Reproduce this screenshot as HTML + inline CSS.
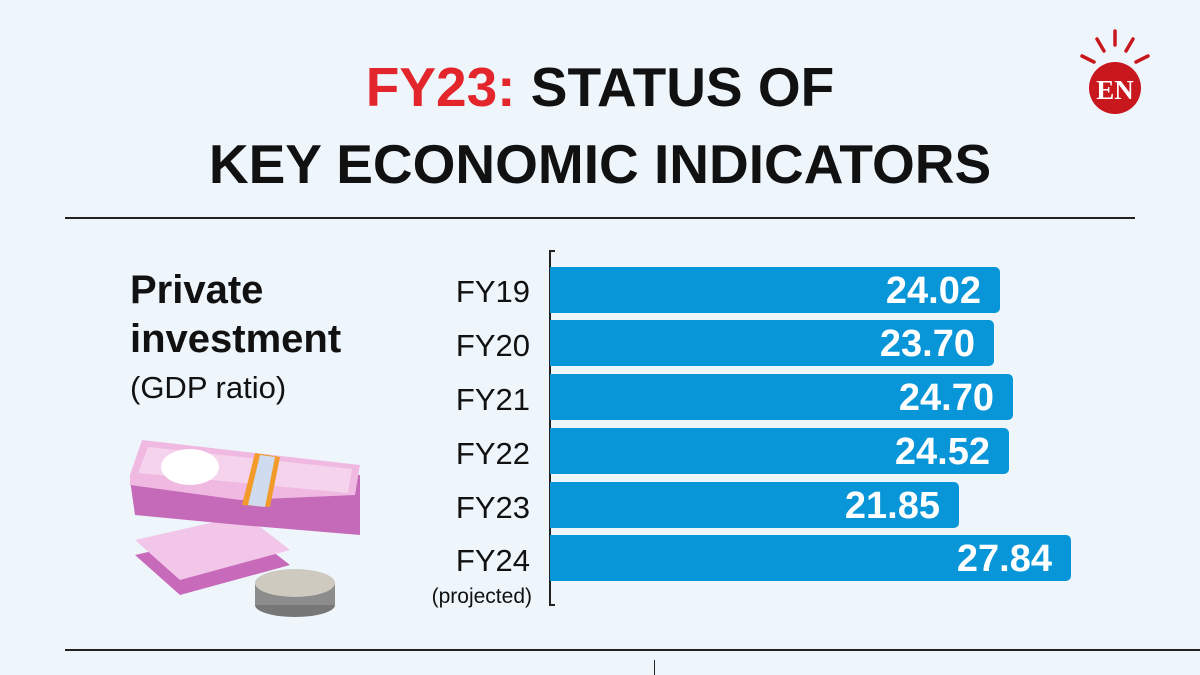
<!DOCTYPE html><html><head><style>
body{margin:0;width:1200px;height:675px;background:#eef6fc;position:relative;overflow:hidden;font-family:"Liberation Sans",sans-serif}
.a{position:absolute}
.t{left:0;width:1200px;text-align:center;font-weight:bold;font-size:55px;color:#111;line-height:1}
.bar{position:absolute;left:550px;height:46px;background:#0896d9;border-radius:0 5px 5px 0;color:#fff;font-weight:bold;font-size:38px;text-align:right;box-sizing:border-box;padding-right:19px;line-height:48px}
.fy{position:absolute;right:670px;font-size:31px;color:#111;line-height:1}
</style></head><body>
<div class="a t" style="top:60px"><span style="color:#e3262c">FY23:</span> STATUS OF</div>
<div class="a t" style="top:137px">KEY ECONOMIC INDICATORS</div>
<svg class="a" style="left:1070px;top:26px" width="100" height="90">
<g stroke="#c8181e" stroke-width="3.5" stroke-linecap="round"><line x1="45" y1="5" x2="45" y2="19"/><line x1="27" y1="13" x2="34" y2="25"/><line x1="63" y1="13" x2="56" y2="25"/><line x1="12" y1="30" x2="24" y2="36"/><line x1="78" y1="30" x2="66" y2="36"/></g>
<circle cx="45" cy="62" r="26" fill="#c8181e"/>
<text x="45" y="73" text-anchor="middle" font-family="Liberation Serif" font-weight="bold" font-size="27" fill="#fff">EN</text></svg>
<div class="a" style="left:65px;top:217px;width:1070px;height:2px;background:#222"></div>
<div class="a" style="left:65px;top:649px;width:1135px;height:2px;background:#222"></div>
<div class="a" style="left:654px;top:660px;width:1px;height:15px;background:#222"></div>
<div class="a" style="left:130px;top:266px;font-weight:bold;font-size:40px;line-height:49px;color:#111">Private<br>investment</div>
<div class="a" style="left:130px;top:370px;font-size:31px;color:#111">(GDP ratio)</div>
<svg class="a" style="left:130px;top:435px" width="240" height="200">
<polygon points="5,120 115,95 160,130 50,160" fill="#c86aba"/>
<polygon points="5,105 115,80 160,115 50,145" fill="#f2c6e8"/>
<polygon points="0,45 10,15 230,40 230,100 110,90 5,80" fill="#c56ab8"/>
<polygon points="0,40 12,5 230,30 225,60 110,65 0,50" fill="#f0b9e2"/>
<polygon points="8,38 18,12 222,34 218,58" fill="#f5d3ec"/>
<ellipse cx="60" cy="32" rx="29" ry="18" fill="#fff"/>
<polygon points="112,70 125,18 150,22 140,72" fill="#f29a2a"/>
<polygon points="118,70 130,20 145,22 135,72" fill="#cfdcef"/>
<ellipse cx="165" cy="170" rx="40" ry="12" fill="#777"/>
<rect x="125" y="148" width="80" height="22" fill="#8c8c8c"/>
<ellipse cx="165" cy="148" rx="40" ry="14" fill="#cfcac0"/>
</svg>
<div class="a" style="left:549px;top:250px;width:1.5px;height:355px;background:#222"></div>
<div class="a" style="left:549px;top:250px;width:6px;height:1.5px;background:#222"></div>
<div class="a" style="left:549px;top:604px;width:6px;height:1.5px;background:#222"></div>
<div class="bar" style="top:267px;width:450px">24.02</div>
<div class="bar" style="top:320px;width:444px">23.70</div>
<div class="bar" style="top:374px;width:463px">24.70</div>
<div class="bar" style="top:428px;width:459px">24.52</div>
<div class="bar" style="top:482px;width:409px">21.85</div>
<div class="bar" style="top:535px;width:521px">27.84</div>
<div class="fy" style="top:276px">FY19</div>
<div class="fy" style="top:330px">FY20</div>
<div class="fy" style="top:384px">FY21</div>
<div class="fy" style="top:438px">FY22</div>
<div class="fy" style="top:492px">FY23</div>
<div class="fy" style="top:545px">FY24</div>
<div class="a" style="right:668px;top:585px;font-size:21px;color:#111">(projected)</div>
</body></html>
